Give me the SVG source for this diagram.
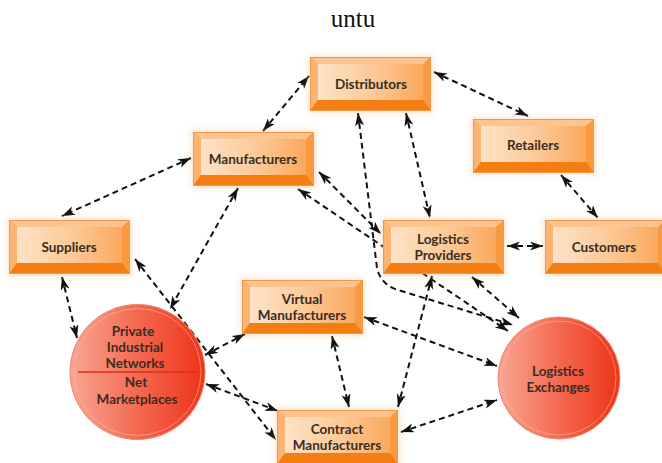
<svg xmlns="http://www.w3.org/2000/svg" xmlns:xlink="http://www.w3.org/1999/xlink" width="662" height="463" viewBox="0 0 662 463">
  <style>
    .lbl { font-family: Lato, "Open Sans", "Liberation Sans", sans-serif; font-weight: 700; font-size: 13.5px; fill: #3a2c24; text-anchor: middle; }
    .cap { font-family: "Liberation Serif", "DejaVu Serif", serif; font-size: 25px; fill: #111; text-anchor: middle; }
    .link { fill: none; stroke: #111; stroke-width: 2; stroke-dasharray: 6 4; marker-start: url(#tip); marker-end: url(#tip); }
  </style>
  <defs>
    <marker id="tip" markerUnits="userSpaceOnUse" markerWidth="14" markerHeight="10" refX="13" refY="4.5" orient="auto-start-reverse">
      <path d="M0,0 L13,4.5 L0,9 L3.5,4.5 Z" fill="#111"/>
    </marker>
    <linearGradient id="face" x1="0" y1="0" x2="1" y2="0">
      <stop offset="0" stop-color="#fde3c8"/>
      <stop offset="0.55" stop-color="#fcc895"/>
      <stop offset="1" stop-color="#faa85c"/>
    </linearGradient>
    <linearGradient id="ball" x1="0" y1="0" x2="1" y2="0">
      <stop offset="0" stop-color="#f9a692"/>
      <stop offset="0.55" stop-color="#f4634a"/>
      <stop offset="1" stop-color="#ee3318"/>
    </linearGradient>
    <filter id="glow" x="-20%" y="-30%" width="140%" height="160%">
      <feGaussianBlur stdDeviation="3"/>
    </filter>
    <!-- bevelled orange box, 121 x 54 -->
    <g id="box">
      <rect x="-2" y="-2" width="125" height="58" fill="#fbb87a" opacity="0.35" filter="url(#glow)"/>
      <rect x="0" y="0" width="121" height="54" fill="#f7922f"/>
      <polygon points="0,0 121,0 113,7 8,7" fill="#fcc48e"/>
      <polygon points="0,0 8,7 8,43 0,54" fill="#fbb472"/>
      <polygon points="121,0 121,54 113,43 113,7" fill="#f99a40"/>
      <polygon points="0,54 8,43 113,43 121,54" fill="#f47e12"/>
      <rect x="8" y="7" width="105" height="36" fill="url(#face)"/>
      <rect x="0.5" y="0.5" width="120" height="53" fill="none" stroke="#f5954a" stroke-width="1"/>
    </g>
  </defs>

  <rect width="662" height="463" fill="#ffffff"/>

  <text class="cap" x="353" y="27">untu</text>

  <!-- connectors -->
  <g id="connectors">
    <line class="link" x1="263" y1="131" x2="309" y2="76"/>
    <line class="link" x1="434" y1="72" x2="528" y2="116"/>
    <line class="link" x1="561" y1="175" x2="598" y2="218"/>
    <line class="link" x1="507" y1="246" x2="543" y2="246"/>
    <line class="link" x1="406" y1="113" x2="430" y2="218"/>
    <line class="link" x1="191" y1="158" x2="62" y2="216"/>
    <line class="link" x1="238" y1="188" x2="170" y2="309"/>
    <line class="link" x1="319" y1="172" x2="381" y2="234"/>
    <line class="link" x1="298" y1="189" x2="508" y2="331"/>
    <path class="link" d="M358,113 L377,268 Q381,285 398,290 L513,325"/>
    <line class="link" x1="472" y1="277" x2="519" y2="318"/>
    <line class="link" x1="62" y1="277" x2="77" y2="338"/>
    <line class="link" x1="135" y1="259" x2="276" y2="440"/>
    <line class="link" x1="205" y1="355" x2="245" y2="334"/>
    <line class="link" x1="206" y1="384" x2="278" y2="411"/>
    <line class="link" x1="332" y1="336" x2="349" y2="407"/>
    <line class="link" x1="364" y1="317" x2="497" y2="366"/>
    <line class="link" x1="398" y1="407" x2="432" y2="276"/>
    <line class="link" x1="401" y1="432" x2="497" y2="400"/>
  </g>

  <!-- nodes -->
  <g id="distributors">
    <use xlink:href="#box" x="310" y="57"/>
    <text class="lbl" x="371" y="89">Distributors</text>
  </g>
  <g id="manufacturers">
    <use xlink:href="#box" x="193" y="132"/>
    <text class="lbl" x="253" y="164">Manufacturers</text>
  </g>
  <g id="retailers">
    <use xlink:href="#box" x="473" y="119"/>
    <text class="lbl" x="533" y="150">Retailers</text>
  </g>
  <g id="suppliers">
    <use xlink:href="#box" x="9" y="220"/>
    <text class="lbl" x="69" y="252">Suppliers</text>
  </g>
  <g id="logistics-providers">
    <use xlink:href="#box" x="383" y="220"/>
    <text class="lbl" x="443" y="244">Logistics</text>
    <text class="lbl" x="443" y="260">Providers</text>
  </g>
  <g id="customers">
    <use xlink:href="#box" x="545" y="220"/>
    <text class="lbl" x="604" y="252">Customers</text>
  </g>
  <g id="virtual-manufacturers">
    <use xlink:href="#box" x="242" y="280"/>
    <text class="lbl" x="302" y="304">Virtual</text>
    <text class="lbl" x="302" y="320">Manufacturers</text>
  </g>
  <g id="contract-manufacturers">
    <use xlink:href="#box" x="277" y="410"/>
    <text class="lbl" x="337" y="434">Contract</text>
    <text class="lbl" x="337" y="450">Manufacturers</text>
  </g>
  <g id="private-networks">
    <circle cx="137.5" cy="372" r="67.5" fill="url(#ball)" stroke="#f3836c" stroke-width="1"/>
    <circle cx="137.5" cy="372" r="63.5" fill="none" stroke="#fbb9a6" stroke-width="1" opacity="0.6"/>
    <line x1="78" y1="372" x2="197" y2="372" stroke="#d9301c" stroke-width="1.5"/>
    <text class="lbl" x="133" y="336">Private</text>
    <text class="lbl" x="135" y="352">Industrial</text>
    <text class="lbl" x="135" y="368">Networks</text>
    <text class="lbl" x="136" y="387">Net</text>
    <text class="lbl" x="137" y="404">Marketplaces</text>
  </g>
  <g id="logistics-exchanges">
    <circle cx="559" cy="378" r="61" fill="url(#ball)" stroke="#f3836c" stroke-width="1"/>
    <circle cx="559" cy="378" r="57" fill="none" stroke="#fbb9a6" stroke-width="1" opacity="0.6"/>
    <text class="lbl" x="558" y="376">Logistics</text>
    <text class="lbl" x="558" y="392">Exchanges</text>
  </g>
</svg>
